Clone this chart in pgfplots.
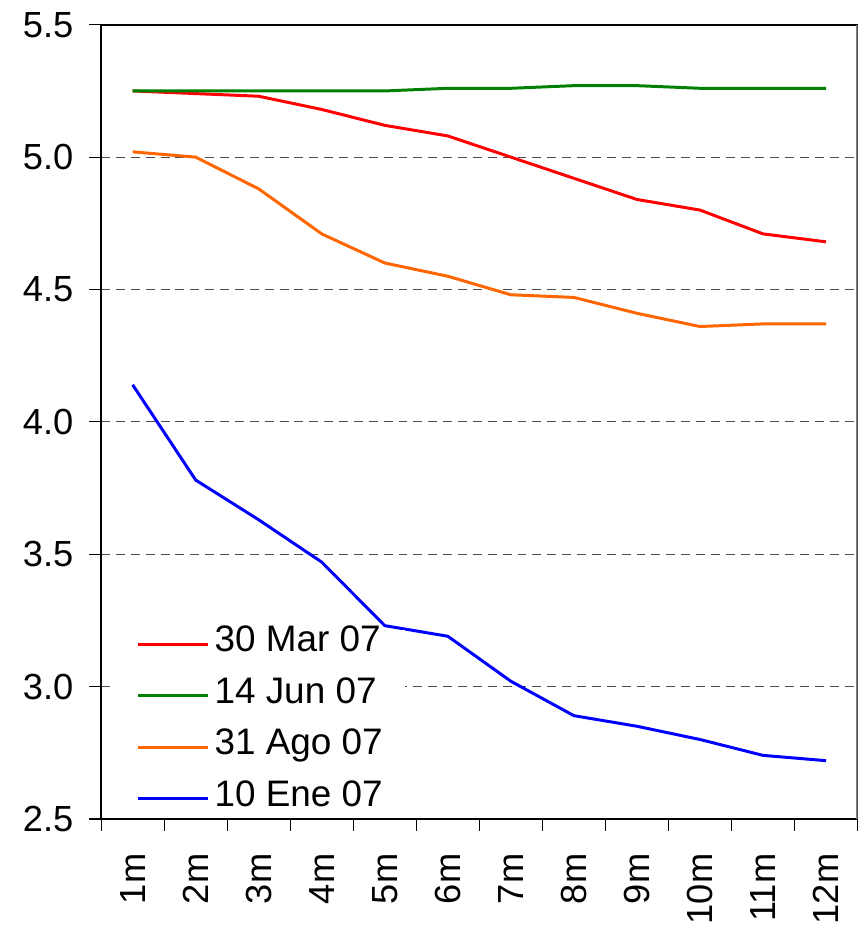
\documentclass[border=0pt]{standalone}
\usepackage{fontspec}
\setmainfont{Liberation Sans}
\usepackage{pgfplots}
\pgfplotsset{compat=1.18}
\definecolor{cred}{RGB}{255,0,0}
\definecolor{cgreen}{RGB}{0,128,0}
\definecolor{corange}{RGB}{255,102,0}
\definecolor{cblue}{RGB}{0,0,255}
\begin{document}
\begin{tikzpicture}
\begin{axis}[
  scale only axis, width=381.5pt, height=400.5pt,
  xmin=0.5, xmax=12.5, ymin=2.5, ymax=5.5,
  /pgf/number format/assume math mode=true,
  font=\fontsize{18.3pt}{22pt}\selectfont,
  xtick={1,...,12},
  xticklabels={1m,2m,3m,4m,5m,6m,7m,8m,9m,10m,11m,12m},
  minor xtick={0.5,1.5,...,12.5},
  every major x tick/.style={draw=none},
  xtick pos=bottom, ytick pos=left,
  ytick={2.5,3,...,5.5},
  yticklabel style={xshift=-4.5pt, /pgf/number format/.cd,fixed,fixed zerofill,precision=1},
  tick align=outside, major tick length=6pt, minor tick length=6pt,
  tick style={black, line width=0.6pt},
  xticklabel style={rotate=90, anchor=east},
  xticklabel shift=8pt,
  ymajorgrids, grid style={black!70, line width=0.5pt, dash pattern=on 4.5pt off 3pt},
  axis line style={black, line width=0.8pt},
  legend cell align=left,
  legend style={at={(axis description cs:0.0197,0.2388)}, anchor=north west, draw=none, fill=white,
    inner xsep=10pt, inner ysep=0pt, row sep=11.5pt, column sep=1.5pt,
    font=\fontsize{18.6pt}{22pt}\selectfont,
    nodes={inner xsep=1pt, inner ysep=0pt, text height=11pt, text depth=3.5pt}},
  legend image code/.code={\draw[#1] (0pt,0pt) -- (35.5pt,0pt);},
]
\addplot[cred, line width=1.5pt] coordinates {(1,5.25)(2,5.24)(3,5.23)(4,5.18)(5,5.12)(6,5.08)(7,5.00)(8,4.92)(9,4.84)(10,4.80)(11,4.71)(12,4.68)};
\addlegendentry{30 Mar 07}
\addplot[cgreen, line width=1.5pt] coordinates {(1,5.25)(2,5.25)(3,5.25)(4,5.25)(5,5.25)(6,5.26)(7,5.26)(8,5.27)(9,5.27)(10,5.26)(11,5.26)(12,5.26)};
\addlegendentry{14 Jun 07}
\addplot[corange, line width=1.5pt] coordinates {(1,5.02)(2,5.00)(3,4.88)(4,4.71)(5,4.60)(6,4.55)(7,4.48)(8,4.47)(9,4.41)(10,4.36)(11,4.37)(12,4.37)};
\addlegendentry{31 Ago 07}
\addplot[cblue, line width=1.5pt] coordinates {(1,4.14)(2,3.78)(3,3.63)(4,3.47)(5,3.23)(6,3.19)(7,3.02)(8,2.89)(9,2.85)(10,2.80)(11,2.74)(12,2.72)};
\addlegendentry{10 Ene 07}
\draw[gray, line width=1.2pt] (rel axis cs:1,0) -- (rel axis cs:1,1);
\coordinate (ll) at (rel axis cs:0,0);
\coordinate (ur) at (rel axis cs:1,1);
\end{axis}
\pgfresetboundingbox
\path[use as bounding box] ([shift={(-51pt,-53.5pt)}]ll) rectangle ([shift={(2.5pt,12.5pt)}]ur);
\end{tikzpicture}
\end{document}
